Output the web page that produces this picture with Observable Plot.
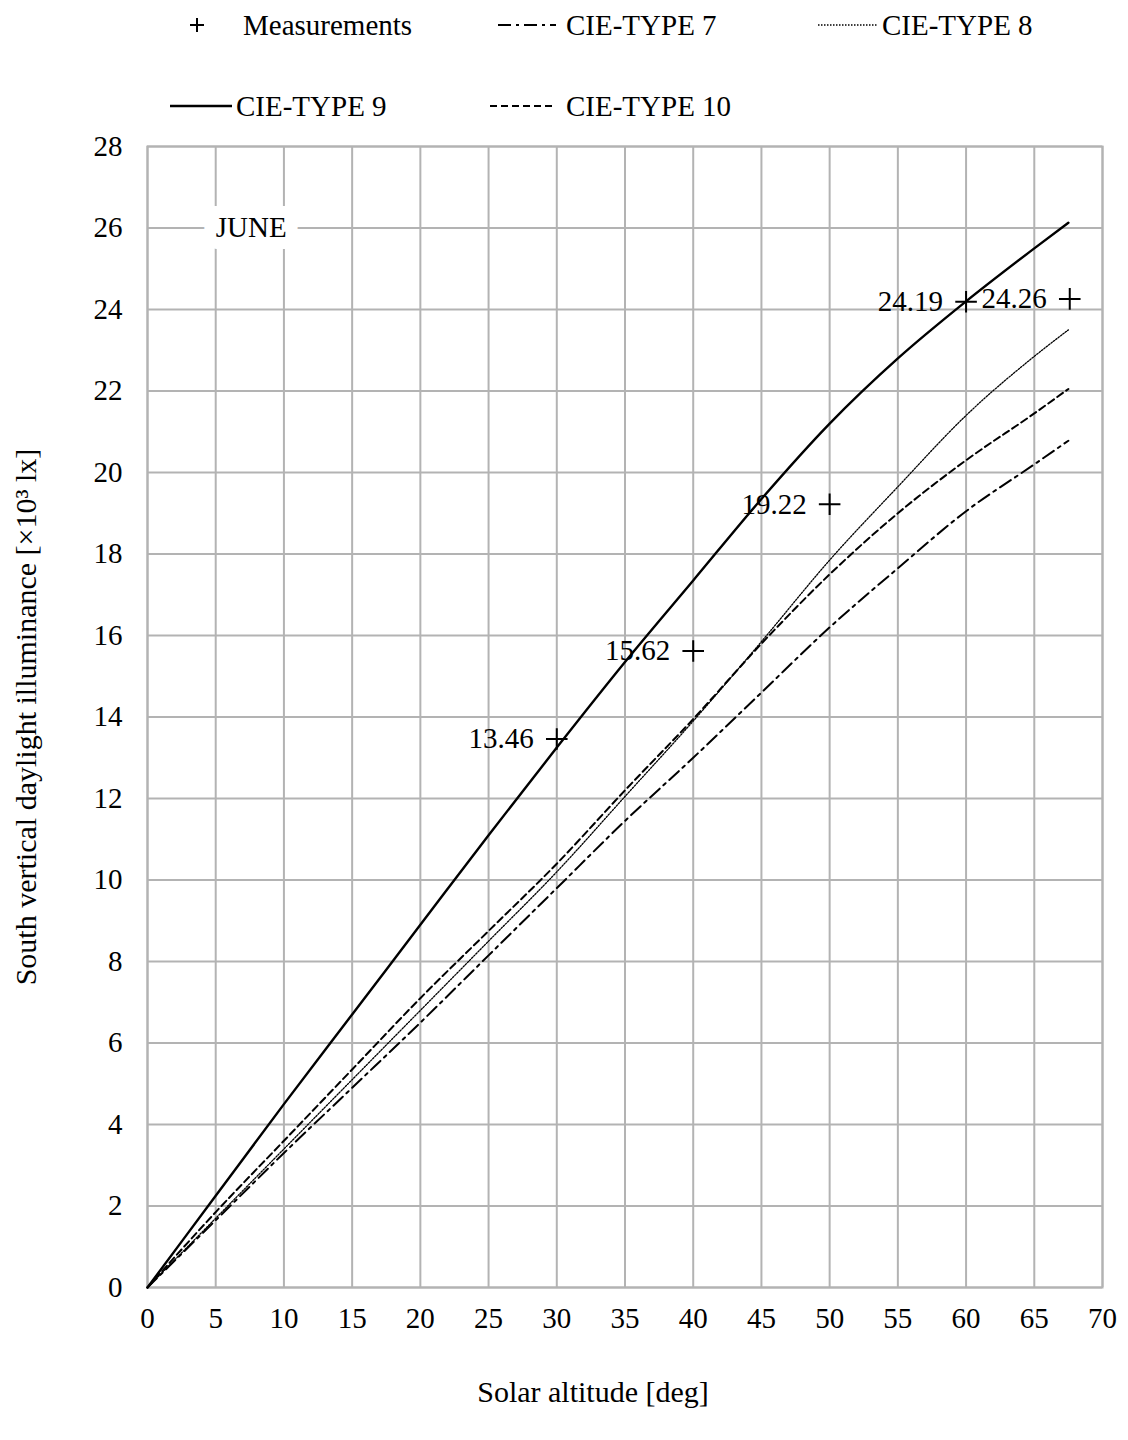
<!DOCTYPE html>
<html>
<head>
<meta charset="utf-8">
<script src="https://cdn.jsdelivr.net/npm/d3@7"></script>
<script src="https://cdn.jsdelivr.net/npm/@observablehq/plot@0.6"></script>
<style>
  html, body { margin: 0; padding: 0; background: #fff; }
  #wrap { position: relative; width: 1128px; height: 1440px; font-family: 'Liberation Serif', 'Times New Roman', serif; }
  #legend { position: absolute; left: 0; top: 0; }
  #chart { position: absolute; left: 0; top: 0; }
  svg text { font-family: 'Liberation Serif', 'Times New Roman', serif; }
</style>
</head>
<body>
<div id="wrap">
  <div id="chart"></div>
  <div id="legend"></div>
</div>
<script>
// ---- Data ----
const altitude = [0, 5, 10, 15, 20, 25, 30, 35, 40, 45, 50, 55, 60, 65, 67.5];
const type7  = [0, 1.65, 3.3, 4.9, 6.5, 8.15, 9.8, 11.45, 13.0, 14.6, 16.2, 17.65, 19.05, 20.2, 20.78];
const type8  = [0, 1.7, 3.4, 5.1, 6.8, 8.5, 10.2, 12.05, 13.9, 15.85, 17.85, 19.65, 21.4, 22.85, 23.5];
const type9  = [0, 2.25, 4.5, 6.7, 8.9, 11.1, 13.25, 15.35, 17.35, 19.35, 21.2, 22.8, 24.2, 25.5, 26.13];
const type10 = [0, 1.85, 3.6, 5.35, 7.1, 8.75, 10.4, 12.2, 13.95, 15.8, 17.5, 19.0, 20.3, 21.45, 22.05];

const measAlt = [30, 40, 50, 60, 67.6];
const measVal = [13.46, 15.62, 19.22, 24.19, 24.26];
const measLabels = ["13.46", "15.62", "19.22", "24.19", "24.26"];

const seriesNames = ["CIE-TYPE 7", "CIE-TYPE 8", "CIE-TYPE 9", "CIE-TYPE 10"];
const xTicks = d3.range(0, 71, 5);
const yTicks = d3.range(0, 29, 2);
const xLabel = "Solar altitude [deg]";
const yLabel = "South vertical daylight illuminance [×10³ lx]";
const monthLabel = "JUNE";
const monthPos = {x: 7.6, y: 26};

// ---- Styles ----
const styles = {
  "CIE-TYPE 7":  {dash: "13,5,3,5", width: 2},
  "CIE-TYPE 8":  {dash: "1.5,1.5", width: 1.3},
  "CIE-TYPE 9":  {dash: null, width: 2.4},
  "CIE-TYPE 10": {dash: "7,4", width: 2}
};

const seriesValues = {"CIE-TYPE 7": type7, "CIE-TYPE 8": type8, "CIE-TYPE 9": type9, "CIE-TYPE 10": type10};
const lineData = name => altitude.map((a, i) => ({x: a, y: seriesValues[name][i]}));
const meas = measAlt.map((a, i) => ({x: a, y: measVal[i], label: measLabels[i]}));

const gridColor = "#b3b3b3";
const font = "'Liberation Serif', 'Times New Roman', serif";
const fs = 29;

const chart = Plot.plot({
  width: 1128,
  height: 1440,
  marginLeft: 147,
  marginRight: 26,
  marginTop: 146,
  marginBottom: 153,
  style: {fontFamily: font, fontSize: fs + "px", color: "#000", background: "transparent"},
  x: {domain: [0, 70], ticks: xTicks, tickSize: 0, tickPadding: 20, label: null},
  y: {domain: [0, 28], ticks: yTicks, tickSize: 0, tickPadding: 25, label: null},
  marks: [
    Plot.gridX(xTicks, {stroke: gridColor, strokeOpacity: 1, strokeWidth: 2}),
    Plot.gridY(yTicks, {stroke: gridColor, strokeOpacity: 1, strokeWidth: 2}),
    Plot.frame({stroke: gridColor, strokeWidth: 2}),
    Plot.axisX(xTicks, {tickSize: 0, tickPadding: 20, fontSize: fs, label: null}),
    Plot.axisY(yTicks, {tickSize: 0, tickPadding: 25, fontSize: fs, label: null}),
    ...seriesNames.map(name => Plot.line(lineData(name), {
      x: "x", y: "y", curve: "monotone-x",
      stroke: "#000", strokeWidth: styles[name].width,
      strokeDasharray: styles[name].dash
    })),
    Plot.dot(meas, {x: "x", y: "y", symbol: "plus", r: 7, stroke: "#000", strokeWidth: 2}),
    Plot.text(meas, {x: "x", y: "y", text: "label", textAnchor: "end", dx: -23, fontSize: fs, fill: "#000"}),
    Plot.text([monthPos], {x: "x", y: "y", text: () => monthLabel, fontSize: fs, fill: "#000",
      stroke: "#fff", strokeWidth: 24, strokeLinejoin: "miter"}),
    Plot.text([xLabel], {frameAnchor: "bottom", dy: 114, dx: -32, fontSize: 30, fill: "#000"}),
    Plot.text([yLabel], {frameAnchor: "left", textAnchor: "middle", dx: -121, rotate: -90, fontSize: 30, fill: "#000"})
  ]
});
document.getElementById("chart").append(chart);

// ---- Legend ----
const legendItems = [
  {label: "Measurements", kind: "plus", sx: 197, tx: 243, y: 25},
  {label: "CIE-TYPE 7", kind: "line", sx: 498, ex: 556, tx: 566, y: 25},
  {label: "CIE-TYPE 8", kind: "line", sx: 818, ex: 878, tx: 882, y: 25},
  {label: "CIE-TYPE 9", kind: "line", sx: 170, ex: 232, tx: 236, y: 106},
  {label: "CIE-TYPE 10", kind: "line", sx: 490, ex: 556, tx: 566, y: 106}
];
const lsvg = d3.select("#legend").append("svg")
  .attr("width", 1128).attr("height", 140)
  .style("font-family", font).style("font-size", fs + "px");
for (const it of legendItems) {
  if (it.kind === "plus") {
    lsvg.append("path").attr("d", `M${it.sx - 7},${it.y}H${it.sx + 7}M${it.sx},${it.y - 7}V${it.y + 7}`)
      .attr("stroke", "#000").attr("stroke-width", 2);
  } else {
    const st = styles[it.label];
    lsvg.append("line").attr("x1", it.sx).attr("x2", it.ex).attr("y1", it.y).attr("y2", it.y)
      .attr("stroke", "#000").attr("stroke-width", st.width)
      .attr("stroke-dasharray", st.dash);
  }
  lsvg.append("text").attr("x", it.tx).attr("y", it.y).attr("dy", "0.35em").text(it.label);
}
</script>
</body>
</html>
